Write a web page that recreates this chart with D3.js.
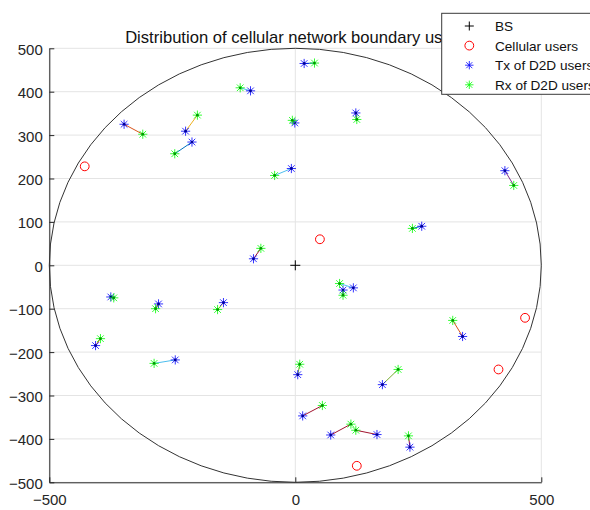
<!DOCTYPE html>
<html>
<head>
<meta charset="utf-8">
<script src="https://cdn.jsdelivr.net/npm/d3@7"></script>
<style>
  body { margin: 0; background: #fff; }
  svg { display: block; font-family: "Liberation Sans", Arial, Helvetica, sans-serif; }
</style>
</head>
<body>
<svg id="chart" width="590" height="510"></svg>
<script>
const title = "Distribution of cellular network boundary users";
const xTicks = [-500, 0, 500];
const yTicks = [-500, -400, -300, -200, -100, 0, 100, 200, 300, 400, 500];
const cellRadius = 500;

const bsPos = [[0, 0]];
const cellUsers = [[-428, 228], [50, 60], [467, -121], [413, -240], [125, -462]];

// D2D pairs: txUsers[i] talks to rxUsers[i]
const txUsers = [
  [-348, 325], [-223, 309], [-210, 284], [-91, 402], [-1, 328],
  [-8, 223], [18, 465], [123, 351], [-85, 15], [-375, -73],
  [-278, -89], [-146, -86], [-406, -185], [-244, -218], [426, 218],
  [257, 90], [118, -52], [97, -57], [340, -164], [5, -252],
  [177, -275], [15, -347], [72, -391], [166, -390], [233, -419]
];
const rxUsers = [
  [-310, 302], [-199, 346], [-245, 257], [-112, 409], [-6, 334],
  [-42, 207], [39, 466], [125, 336], [-70, 39], [-369, -75],
  [-284, -100], [-158, -102], [-396, -169], [-287, -226], [444, 184],
  [238, 85], [90, -42], [97, -69], [320, -127], [9, -228],
  [209, -240], [55, -323], [113, -366], [123, -380], [230, -393]
];
const pairColorIdx = [1, 2, 0, 5, 4, 5, 0, 3, 6, 0, 1, 2, 1, 5, 3, 0, 5, 4, 1, 4, 4, 6, 6, 6, 6];
const legendLabels = ["BS", "Cellular users", "Tx of D2D users", "Rx of D2D users"];

const matlabOrder = ["#0072BD", "#D95319", "#EDB120", "#7E2F8E", "#77AC30", "#4DBEEE", "#A2142F"];
const axisColor = "#262626";

const svg = d3.select("#chart");

const x = d3.scaleLinear().domain([-500, 500]).range([49.3, 541.3]);
const y = d3.scaleLinear().domain([-500, 500]).range([482.3, 48.3]);
const linkColor = d3.scaleOrdinal().domain(d3.range(matlabOrder.length)).range(matlabOrder);

// grid
const grid = svg.append("g").attr("stroke", "#e4e4e4").attr("stroke-width", 1);
grid.selectAll(".gy").data(yTicks).join("line")
  .attr("x1", x(-500)).attr("x2", x(500))
  .attr("y1", (d) => y(d)).attr("y2", (d) => y(d));
grid.selectAll(".gx").data(xTicks).join("line")
  .attr("y1", y(-500)).attr("y2", y(500))
  .attr("x1", (d) => x(d)).attr("x2", (d) => x(d));

// axes
const styleAxis = (g) => {
  g.select(".domain").attr("stroke", axisColor);
  g.selectAll(".tick line").attr("stroke", axisColor);
  g.selectAll(".tick text").attr("fill", axisColor).style("font-size", "15px");
};

svg.append("g")
  .attr("transform", `translate(0,${y(-500)})`)
  .call(d3.axisBottom(x).tickValues(xTicks).tickSizeInner(-5).tickSizeOuter(0).tickPadding(12.5))
  .call(styleAxis);

svg.append("g")
  .attr("transform", `translate(${x(-500)},0)`)
  .call(d3.axisLeft(y).tickValues(yTicks).tickSizeInner(-5).tickSizeOuter(0).tickPadding(6.5))
  .call(styleAxis)
  .call((g) => g.selectAll(".tick text").attr("dy", "0.4em"));

// cell boundary
svg.append("ellipse")
  .attr("cx", x(0)).attr("cy", y(0))
  .attr("rx", x(cellRadius) - x(0)).attr("ry", y(0) - y(cellRadius))
  .attr("fill", "none").attr("stroke", "#333").attr("stroke-width", 1);

const asterisk = (s) => {
  const d = s * 0.72;
  return `M0,${-s}V${s}M${-s},0H${s}M${-d},${-d}L${d},${d}M${-d},${d}L${d},${-d}`;
};
const plus = (s) => `M0,${-s}V${s}M${-s},0H${s}`;

// D2D links
svg.append("g").selectAll("line").data(txUsers).join("line")
  .attr("x1", (d) => x(d[0])).attr("y1", (d) => y(d[1]))
  .attr("x2", (d, i) => x(rxUsers[i][0])).attr("y2", (d, i) => y(rxUsers[i][1]))
  .attr("stroke", (d, i) => linkColor(pairColorIdx[i]))
  .attr("stroke-width", 1);

// BS
svg.append("g").selectAll("path").data(bsPos).join("path")
  .attr("transform", (d) => `translate(${x(d[0])},${y(d[1])})`)
  .attr("d", plus(5)).attr("stroke", "#000").attr("stroke-width", 1).attr("fill", "none");

// cellular users
svg.append("g").selectAll("circle").data(cellUsers).join("circle")
  .attr("cx", (d) => x(d[0])).attr("cy", (d) => y(d[1])).attr("r", 4.4)
  .attr("fill", "none").attr("stroke", "#ff0000").attr("stroke-width", 1);

const drawStars = (data, color, dark) => {
  const g = svg.append("g");
  const node = g.selectAll("g").data(data).join("g")
    .attr("transform", (d) => `translate(${x(d[0])},${y(d[1])})`);
  node.append("path").attr("d", asterisk(4.6))
    .attr("stroke", color).attr("stroke-width", 1).attr("fill", "none").attr("stroke-opacity", 0.8);
  node.append("circle").attr("r", 1.4).attr("fill", dark);
};
drawStars(txUsers, "#0000ff", "#000099");
drawStars(rxUsers, "#00ff00", "#009900");

// title
svg.append("text")
  .attr("x", x(0)).attr("y", 43.3)
  .attr("text-anchor", "middle")
  .style("font-size", "16.6px")
  .attr("fill", "#111")
  .text(title);

// legend
const legend = svg.append("g").attr("transform", "translate(441.7,13.3)");
legend.append("rect")
  .attr("width", 200).attr("height", 81)
  .attr("fill", "#fff").attr("stroke", "#3a3a3a").attr("stroke-width", 1);

const rows = legend.selectAll(".row").data(legendLabels).join("g")
  .attr("transform", (d, i) => `translate(0,${12.7 + i * 19.6})`);
rows.append("text")
  .attr("x", 53.3).attr("dy", "0.36em")
  .style("font-size", "13.6px").attr("fill", "#111")
  .text((d) => d);

const lx = 27.6;
legend.append("path").attr("transform", `translate(${lx},12.7)`)
  .attr("d", plus(4.5)).attr("stroke", "#000").attr("fill", "none");
legend.append("circle").attr("cx", lx).attr("cy", 12.7 + 19.6).attr("r", 4.4)
  .attr("fill", "none").attr("stroke", "#ff0000");
legend.append("path").attr("transform", `translate(${lx},${12.7 + 2 * 19.6})`)
  .attr("d", asterisk(4.2)).attr("stroke", "#0000ff").attr("fill", "none").attr("stroke-opacity", 0.8);
legend.append("path").attr("transform", `translate(${lx},${12.7 + 3 * 19.6})`)
  .attr("d", asterisk(4.2)).attr("stroke", "#00ff00").attr("fill", "none").attr("stroke-opacity", 0.8);
</script>
</body>
</html>
